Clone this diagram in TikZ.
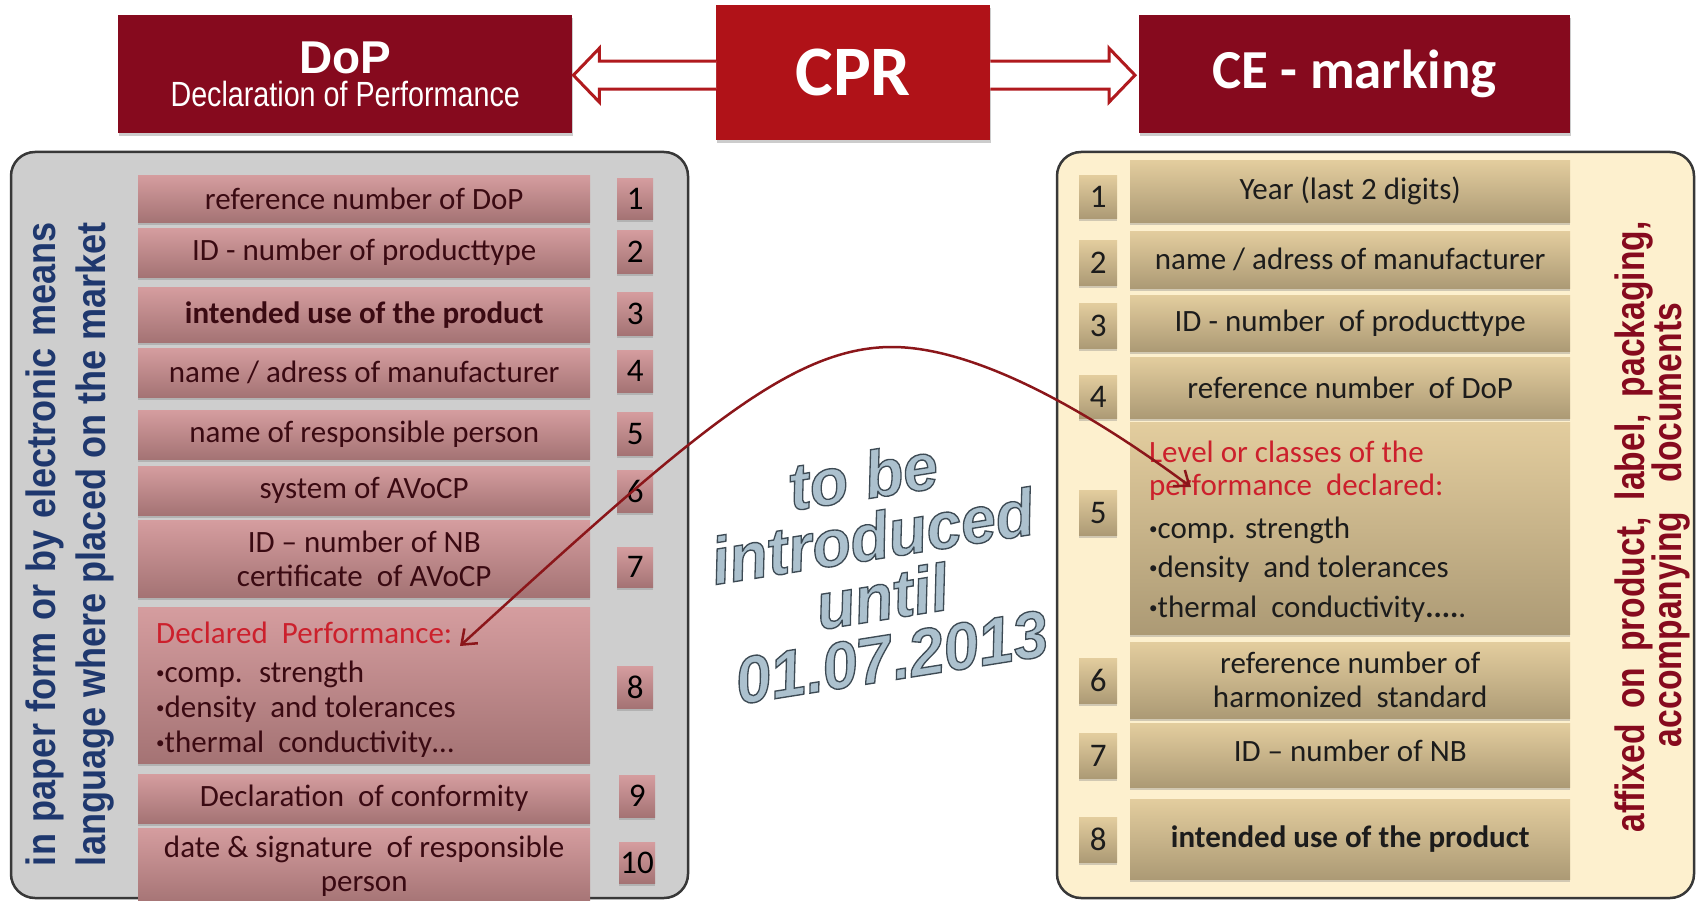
\documentclass[tikz,border=0pt]{standalone}
\usepackage{fontspec}
\setmainfont{Carlito}
\newfontfamily\arialfont{Liberation Sans}
\newfontfamily\narrowfont[FakeStretch=0.82]{Liberation Sans}
\newfontfamily\semifont[FakeStretch=0.88]{Liberation Sans}
\usetikzlibrary{calc,shadows,arrows.meta}
\definecolor{hdrmaroon}{RGB}{134,10,30}
\definecolor{cprred}{RGB}{176,18,24}
\definecolor{pinkT}{RGB}{213,157,159}
\definecolor{pinkB}{RGB}{164,115,116}
\definecolor{goldT}{RGB}{227,205,158}
\definecolor{goldB}{RGB}{172,154,117}
\definecolor{ltxt}{RGB}{58,10,18}
\definecolor{rtxt}{RGB}{28,28,28}
\definecolor{redtxt}{RGB}{204,32,44}
\definecolor{navytxt}{RGB}{31,56,110}
\definecolor{panelgray}{RGB}{206,206,206}
\definecolor{cream}{RGB}{253,240,206}
\definecolor{wordfill}{RGB}{172,193,206}
\definecolor{curvered}{RGB}{139,22,26}
\definecolor{blockred}{RGB}{176,26,30}
\newcommand\smallbul{\raisebox{4pt}{\fontsize{17}{17}\selectfont•}}
\newcommand\outlinetext[1]{\special{pdf:literal direct 2 Tr 1.3 w 0.24 0.29 0.33 RG}#1\special{pdf:literal direct 0 Tr}}
\tikzset{
  hdr/.style={anchor=north west, fill=hdrmaroon, text=white, inner sep=0pt, align=center,
    drop shadow={shadow xshift=1pt, shadow yshift=-3pt, opacity=0.4}},
  lbox/.style={anchor=north west, top color=pinkT, bottom color=pinkB, inner sep=0pt,
    text=ltxt, align=center, font=\fontsize{31}{34}\selectfont,
    drop shadow={shadow xshift=0pt, shadow yshift=-3pt, opacity=0.35}},
  lnum/.style={lbox, text=black, font=\fontsize{33}{36}\selectfont, minimum width=36pt},
  rbox/.style={lbox, top color=goldT, bottom color=goldB, text=rtxt},
  rnum/.style={rbox, font=\fontsize{33}{36}\selectfont, minimum width=38pt},
  panel/.style={draw=black!78, line width=2.5pt, rounded corners=24pt},
  hollow/.style={draw=blockred, line width=3pt, fill=white, line join=miter},
  vtext/.style={rotate=90, inner sep=0pt},
  bigword/.style={rotate=9, align=center, inner sep=0pt,
    font=\arialfont\bfseries\itshape\fontsize{63}{61}\selectfont},
  curvearrow/.style={draw=curvered, line width=2.5pt,
    {Straight Barb[length=13pt,width=20pt]}-{Straight Barb[length=13pt,width=20pt]}}
}
\begin{document}
\begin{tikzpicture}[x=1pt,y=-1pt]
\useasboundingbox (0,0) rectangle (1697,901);
\fill[white] (0,0) rectangle (1697,901);

% panels
\draw[panel, fill=panelgray] (11,152) rectangle (688,898);
\draw[panel, fill=cream] (1057,152) rectangle (1694,898);

% headers
\node[hdr, minimum width=454pt, minimum height=118pt, font=\fontsize{35}{33}\selectfont] (dop) at (118,15)
  {{\arialfont\bfseries\fontsize{46}{33}\selectfont DoP}\\{\narrowfont\fontsize{35}{33}\selectfont Declaration of Performance}};
\node[hdr, fill=cprred, minimum width=274pt, minimum height=135pt,
  font=\bfseries\fontsize{71}{71}\selectfont] (cpr) at (716,5) {CPR};
\node[hdr, minimum width=431pt, minimum height=118pt,
  font=\bfseries\fontsize{55}{55}\selectfont] (ce) at (1139,15) {CE - marking};

% hollow block arrows
\draw[hollow] ($(cpr.west)+(0,-11.5)$) -- ($(dop.east)+(27,-13)$) -- ($(dop.east)+(27,-26)$)
  -- ($(dop.east)+(1,1)$) -- ($(dop.east)+(27,28)$) -- ($(dop.east)+(27,15)$) -- ($(cpr.west)+(0,16.5)$);
\draw[hollow] ($(cpr.east)+(0,-11.5)$) -- ($(ce.west)+(-30,-13)$) -- ($(ce.west)+(-30,-26)$)
  -- ($(ce.west)+(-4,1)$) -- ($(ce.west)+(-30,28)$) -- ($(ce.west)+(-30,15)$) -- ($(cpr.east)+(0,16.5)$);

% left boxes
\node[lbox, minimum width=452pt, minimum height=47pt] (l1) at (138,175) {reference number of DoP};
\node[lbox, minimum width=452pt, minimum height=49pt] (l2) at (138,228) {ID - number of producttype};
\node[lbox, minimum width=452pt, minimum height=55pt] (l3) at (138,287) {\textbf{intended use of the product}};
\node[lbox, minimum width=452pt, minimum height=49pt] (l4) at (138,348) {name / adress of manufacturer};
\node[lbox, minimum width=452pt, minimum height=49pt] (l5) at (138,410) {name of responsible person};
\node[lbox, minimum width=452pt, minimum height=49pt] (l6) at (138,466) {system of AVoCP};
\node[lbox, minimum width=452pt, minimum height=77pt] (l7) at (138,520) {ID -- number of NB\\certificate \ of AVoCP};
\node[lbox, minimum width=452pt, minimum height=156pt] (l8) at (138,607) {};
\node[lbox, minimum width=452pt, minimum height=49pt] (l9) at (138,774) {Declaration \ of conformity};
\node[lbox, minimum width=452pt, minimum height=77pt] (l10) at (138,828) {date \& signature \ of responsible\\person};
\node[anchor=north west, inner sep=0pt, align=left, text=ltxt, font=\fontsize{31}{35}\selectfont] (l8t) at (156,622)
  {\textcolor{redtxt}{Declared \ Performance:}\\[4pt]\smallbul comp. \ strength\\\smallbul density \ and tolerances\\\smallbul thermal \ conductivity…};

% left numbers
\node[lnum, minimum height=41pt] (n1) at (617,178) {1};
\node[lnum, minimum height=43pt] (n2) at (617,230) {2};
\node[lnum, minimum height=43pt] (n3) at (617,292) {3};
\node[lnum, minimum height=42pt] (n4) at (617,350) {4};
\node[lnum, minimum height=43pt] (n5) at (617,412) {5};
\node[lnum, minimum height=42pt] (n6) at (617,470) {6};
\node[lnum, minimum height=40pt] (n7) at (617,547) {7};
\node[lnum, minimum height=42pt] (n8) at (617,666) {8};
\node[lnum, minimum height=42pt] (n9) at (619,775) {9};
\node[lnum, minimum height=41pt] (n10) at (619,842) {10};

% right boxes
\node[rbox, minimum width=440pt, minimum height=62pt] (r1) at (1130,160) {Year (last 2 digits)};
\node[rbox, minimum width=440pt, minimum height=57pt] (r2) at (1130,231) {name / adress of manufacturer};
\node[rbox, minimum width=440pt, minimum height=56pt] (r3) at (1130,295) {ID - number \ of producttype};
\node[rbox, minimum width=440pt, minimum height=61pt] (r4) at (1130,357) {reference number \ of DoP};
\node[rbox, minimum width=440pt, minimum height=212pt] (r5) at (1130,422) {};
\node[rbox, minimum width=440pt, minimum height=76pt] (r6) at (1130,642) {reference number of\\harmonized \ standard};
\node[rbox, minimum width=440pt, minimum height=64pt] (r7) at (1130,723) {\raisebox{8pt}{ID -- number of NB}};
\node[rbox, minimum width=440pt, minimum height=80pt] (r8) at (1130,799) {\textbf{intended use of the product}};
\node[anchor=north west, inner sep=0pt, align=left, text=rtxt, font=\fontsize{31}{33}\selectfont] (r5t) at (1149,441)
  {\textcolor{redtxt}{Level or classes of the}\\\textcolor{redtxt}{performance \ declared:}\\[10pt]\smallbul comp. strength\\[6pt]\smallbul density \ and tolerances\\[7pt]\smallbul thermal \ conductivity\textbf{....}.};

% right numbers
\node[rnum, minimum height=43pt] (m1) at (1079,175) {1};
\node[rnum, minimum height=45pt] (m2) at (1079,240) {2};
\node[rnum, minimum height=45pt] (m3) at (1079,303) {3};
\node[rnum, minimum height=43pt] (m4) at (1079,375) {4};
\node[rnum, minimum height=45pt] (m5) at (1079,490) {5};
\node[rnum, minimum height=45pt] (m6) at (1079,658) {6};
\node[rnum, minimum height=45pt] (m7) at (1079,733) {7};
\node[rnum, minimum height=45pt] (m8) at (1079,817) {8};

% vertical texts
\node[vtext, text=navytxt, font=\semifont\bfseries\fontsize{41}{46}\selectfont] (vl1) at (45,544)
  {\makebox[644pt][s]{in paper form or by electronic means}};
\node[vtext, text=navytxt, font=\semifont\bfseries\fontsize{41}{46}\selectfont] (vl2) at (95,544)
  {\makebox[644pt][s]{language where placed on the market}};
\node[vtext, text=hdrmaroon, font=\narrowfont\bfseries\fontsize{41}{40}\selectfont] (vr1) at (1634,527)
  {\makebox[611pt][s]{affixed on product, label, packaging,}};
\node[vtext, text=hdrmaroon, font=\narrowfont\bfseries\fontsize{41}{40}\selectfont] (vr2) at (1671,525)
  {\makebox[444pt][s]{accompanying documents}};

% centre slogan
\node[bigword, text=wordfill] (slogan) at (877,566)
  {\outlinetext{\scalebox{1}[1.05]{to be}}\\\outlinetext{\scalebox{1}[1.05]{introduced}}\\\outlinetext{\scalebox{1}[1.05]{until}}\\\outlinetext{\scalebox{1}[1.05]{01.07.2013}}};

% curved arrow
\coordinate (dpL) at (460,646);
\coordinate (peak) at (892,347);
\coordinate (dpR) at (1191,487);
\draw[curvearrow] (dpL) .. controls (690,436) and (790,347) .. (peak)
  .. controls (960,347) and (1060,390) .. (dpR);
\end{tikzpicture}
\end{document}
